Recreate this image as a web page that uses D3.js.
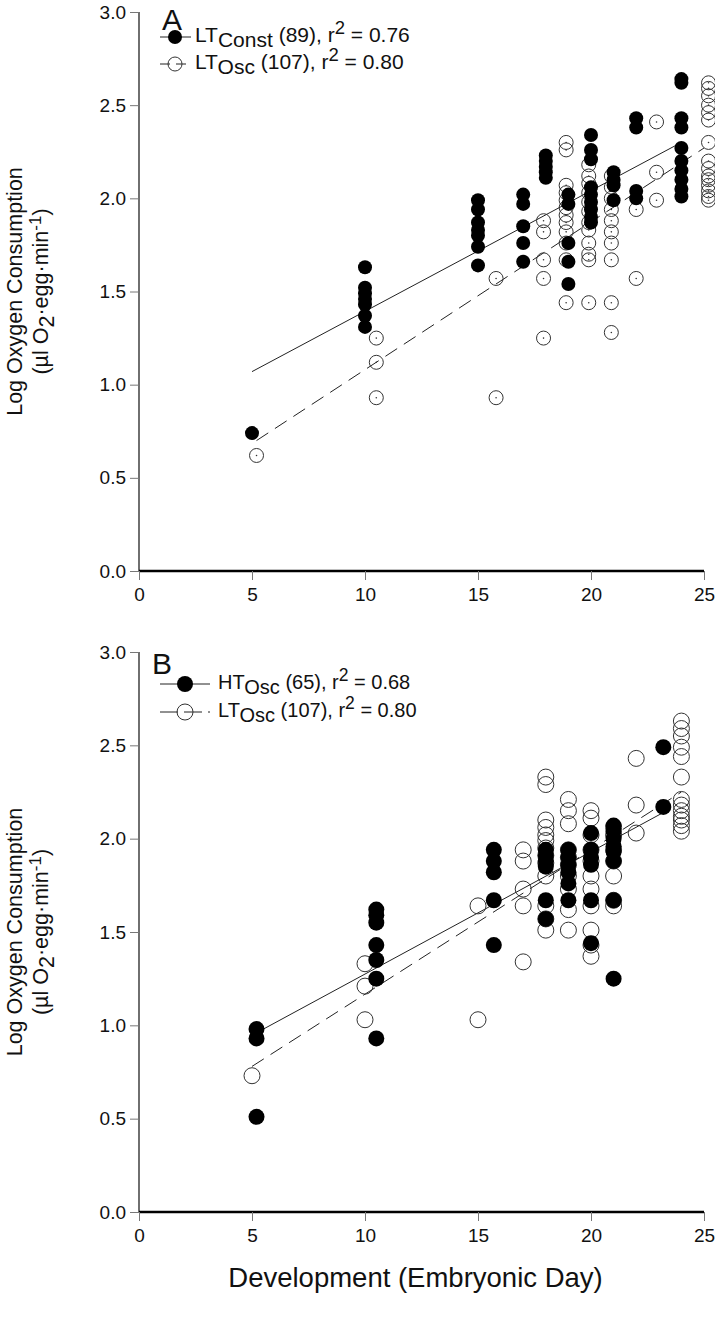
<!DOCTYPE html>
<html>
<head>
<meta charset="utf-8">
<script src="https://cdn.jsdelivr.net/npm/d3@7"></script>
<style>
  html, body { margin: 0; padding: 0; background: #fff; }
  svg { display: block; font-family: "Liberation Sans", Arial, sans-serif; }
</style>
</head>
<body>
<svg id="chart" width="715" height="1325"></svg>
<script>
// ---------- DATA ----------
const X_TICKS = [0, 5, 10, 15, 20, 25];
const Y_TICKS = [0.0, 0.5, 1.0, 1.5, 2.0, 2.5, 3.0];

// Panel A: LT Const (filled)
const A_LT_CONST = [
  { day: 5,  vals: [0.74] },
  { day: 10, vals: [1.63, 1.52, 1.49, 1.46, 1.43, 1.37, 1.31] },
  { day: 15, vals: [1.99, 1.94, 1.87, 1.83, 1.80, 1.74, 1.64] },
  { day: 17, vals: [2.02, 1.97, 1.85, 1.76, 1.66] },
  { day: 18, vals: [2.23, 2.20, 2.17, 2.14, 2.11] },
  { day: 19, vals: [2.02, 1.97, 1.76, 1.66, 1.54] },
  { day: 20, vals: [2.34, 2.26, 2.21, 2.06, 2.02, 1.98, 1.94, 1.90, 1.87] },
  { day: 21, vals: [2.14, 2.10, 2.07, 1.99] },
  { day: 22, vals: [2.43, 2.38, 2.04, 2.00] },
  { day: 24, vals: [2.64, 2.62, 2.43, 2.38, 2.27, 2.20, 2.15, 2.10, 2.05, 2.01] }
];
// Panel A: LT Osc (open, dotted centre)
const A_LT_OSC = [
  { day: 5.2,  vals: [0.62] },
  { day: 10.5, vals: [1.25, 1.12, 0.93] },
  { day: 15.8, vals: [1.57, 0.93] },
  { day: 17.9, vals: [1.88, 1.82, 1.67, 1.57, 1.25] },
  { day: 18.9, vals: [2.30, 2.26, 2.07, 2.03, 1.99, 1.95, 1.91, 1.87, 1.82, 1.76, 1.67, 1.44] },
  { day: 19.9, vals: [2.18, 2.12, 2.08, 2.03, 1.98, 1.93, 1.87, 1.83, 1.76, 1.70, 1.67, 1.44] },
  { day: 20.9, vals: [2.12, 2.06, 2.00, 1.94, 1.88, 1.82, 1.76, 1.67, 1.44, 1.28] },
  { day: 22,   vals: [1.94, 1.57] },
  { day: 22.9, vals: [2.41, 2.14, 1.99] },
  { day: 25.2, vals: [2.62, 2.59, 2.55, 2.50, 2.46, 2.42, 2.30, 2.20, 2.16, 2.12, 2.10, 2.07, 2.04, 2.01, 1.99] }
];
const A_CONST_FIT = [[5, 1.07], [24, 2.30]];
const A_OSC_FIT   = [[5.2, 0.70], [25, 2.27]];

// Panel B: HT Osc (filled)
const B_HT_OSC = [
  { day: 5.2,  vals: [0.98, 0.93, 0.51] },
  { day: 10.5, vals: [1.62, 1.59, 1.55, 1.43, 1.35, 1.25, 0.93] },
  { day: 15.7, vals: [1.94, 1.88, 1.82, 1.67, 1.43] },
  { day: 18,   vals: [1.94, 1.91, 1.88, 1.85, 1.67, 1.57] },
  { day: 19,   vals: [1.94, 1.90, 1.86, 1.82, 1.76, 1.67] },
  { day: 20,   vals: [2.03, 1.94, 1.90, 1.86, 1.67, 1.44] },
  { day: 21,   vals: [2.07, 2.04, 2.00, 1.96, 1.93, 1.88, 1.67, 1.25] },
  { day: 23.2, vals: [2.49, 2.17] }
];
// Panel B: LT Osc (open)
const B_LT_OSC = [
  { day: 5,  vals: [0.73] },
  { day: 10, vals: [1.33, 1.21, 1.03] },
  { day: 15, vals: [1.64, 1.03] },
  { day: 17, vals: [1.94, 1.88, 1.73, 1.64, 1.34] },
  { day: 18, vals: [2.33, 2.29, 2.10, 2.06, 2.02, 1.99, 1.95, 1.91, 1.87, 1.80, 1.64, 1.57, 1.51] },
  { day: 19, vals: [2.21, 2.15, 2.08, 1.94, 1.90, 1.86, 1.80, 1.73, 1.62, 1.51] },
  { day: 20, vals: [2.15, 2.11, 2.02, 1.94, 1.88, 1.80, 1.73, 1.64, 1.51, 1.43, 1.37] },
  { day: 21, vals: [2.06, 2.02, 1.94, 1.88, 1.80, 1.67, 1.64] },
  { day: 22, vals: [2.43, 2.18, 2.03] },
  { day: 24, vals: [2.63, 2.59, 2.55, 2.49, 2.44, 2.33, 2.21, 2.18, 2.15, 2.12, 2.10, 2.07, 2.04] }
];
const B_HT_FIT = [[5.2, 0.96], [23.2, 2.14]];
const B_LT_FIT = [[5, 0.78], [24, 2.25]];

// Legend texts
const A_LEGEND = [
  { main: "LT", sub: "Const", rest: " (89), r", sup: "2", tail: " = 0.76" },
  { main: "LT", sub: "Osc", rest: " (107), r", sup: "2", tail: " = 0.80" }
];
const B_LEGEND = [
  { main: "HT", sub: "Osc", rest: " (65), r", sup: "2", tail: " = 0.68" },
  { main: "LT", sub: "Osc", rest: " (107), r", sup: "2", tail: " = 0.80" }
];

// ---------- DRAW ----------
const svg = d3.select("#chart");
const X0 = 139, X1 = 704;

function expand(groups) {
  const out = [];
  groups.forEach(g => g.vals.forEach(v => out.push([g.day, v])));
  return out;
}

function panel(cfg) {
  const x = d3.scaleLinear().domain([0, 25]).range([X0, X1]);
  const y = d3.scaleLinear().domain([0, 3]).range([cfg.bottom, cfg.top]);
  const g = svg.append("g");

  // y axis
  const yAx = g.append("g").attr("transform", `translate(${X0},0)`)
    .call(d3.axisLeft(y).tickValues(Y_TICKS).tickFormat(d3.format(".1f")).tickSize(9).tickPadding(4));
  yAx.select(".domain").attr("stroke", "#222").attr("stroke-width", 1.3).attr("d", `M0,${cfg.top}V${cfg.bottom}`);
  yAx.selectAll(".tick line").attr("stroke", "#777");
  yAx.selectAll("text").attr("font-size", 19).attr("fill", "#111");

  // x axis
  const xAx = g.append("g").attr("transform", `translate(0,${cfg.bottom})`)
    .call(d3.axisBottom(x).tickValues(X_TICKS).tickFormat(d3.format("d")).tickSize(9).tickPadding(8));
  xAx.select(".domain").attr("stroke", "#000").attr("stroke-width", 2.5).attr("d", `M${X0},0H${X1}`);
  xAx.selectAll(".tick line").attr("stroke", "#777");
  xAx.selectAll("text").attr("font-size", 19).attr("fill", "#111");

  // y label
  const cy = (cfg.top + cfg.bottom) / 2;
  const yl = g.append("text").attr("transform", `translate(22,${cy}) rotate(-90)`)
    .attr("text-anchor", "middle").attr("font-size", 21.5).attr("fill", "#111");
  yl.text("Log Oxygen Consumption");
  const yl2 = g.append("text").attr("transform", `translate(48,${cy}) rotate(-90)`)
    .attr("text-anchor", "middle").attr("font-size", 21.5).attr("fill", "#111");
  yl2.append("tspan").text("(µl O");
  yl2.append("tspan").attr("baseline-shift", "-25%").text("2");
  yl2.append("tspan").text("·egg·min");
  yl2.append("tspan").attr("baseline-shift", "40%").attr("font-size", 17).text("-1");
  yl2.append("tspan").text(")");

  // fits
  const line = d3.line().x(d => x(d[0])).y(d => y(d[1]));
  g.append("path").datum(cfg.fitOpen).attr("d", line)
    .attr("fill", "none").attr("stroke", "#222").attr("stroke-width", 1).attr("stroke-dasharray", cfg.dash);
  g.append("path").datum(cfg.fitFilled).attr("d", line)
    .attr("fill", "none").attr("stroke", "#222").attr("stroke-width", 1);

  // points
  const R = cfg.r;
  g.append("g").selectAll("circle").data(expand(cfg.open)).join("circle")
    .attr("cx", d => x(d[0])).attr("cy", d => y(d[1])).attr("r", R)
    .attr("fill", "none").attr("stroke", "#333").attr("stroke-width", 1);
  if (cfg.dot) {
    g.append("g").selectAll("circle").data(expand(cfg.open)).join("circle")
      .attr("cx", d => x(d[0])).attr("cy", d => y(d[1])).attr("r", 0.8).attr("fill", "#333");
  }
  g.append("g").selectAll("circle").data(expand(cfg.filled)).join("circle")
    .attr("cx", d => x(d[0])).attr("cy", d => y(d[1])).attr("r", R).attr("fill", "#000");

  // panel letter
  g.append("text").attr("x", cfg.letterX).attr("y", cfg.letterY).attr("font-size", 30).attr("fill", "#111").text(cfg.letter);

  // legend
  cfg.legend.forEach((L, i) => {
    const ly = cfg.legY[i];
    const isOpen = i === 1;
    g.append("line").attr("x1", cfg.legX0).attr("x2", cfg.legX1).attr("y1", ly).attr("y2", ly)
      .attr("stroke", "#222").attr("stroke-width", 1).attr("stroke-dasharray", isOpen ? cfg.legDash : null);
    g.append("circle").attr("cx", cfg.legC).attr("cy", ly).attr("r", R)
      .attr("fill", isOpen ? "#fff" : "#000").attr("fill-opacity", isOpen ? 0 : 1)
      .attr("stroke", isOpen ? "#333" : "none").attr("stroke-width", 1);
    const fs = cfg.legFont;
    const t = g.append("text").attr("x", cfg.legT).attr("y", ly + 5).attr("font-size", fs).attr("fill", "#111");
    t.append("tspan").text(L.main);
    t.append("tspan").attr("dy", 5).text(L.sub);
    t.append("tspan").attr("dy", -5).text(L.rest);
    t.append("tspan").attr("dy", -8).attr("font-size", fs - 2.5).text(L.sup);
    t.append("tspan").attr("dy", 8).text(L.tail);
  });
}

panel({
  top: 12, bottom: 571, r: 7, dot: true, dash: "14,8",
  filled: A_LT_CONST, open: A_LT_OSC, fitFilled: A_CONST_FIT, fitOpen: A_OSC_FIT,
  letter: "A", letterX: 162, letterY: 30, legFont: 21,
  legend: A_LEGEND, legY: [37, 64], legX0: 160, legX1: 191, legC: 175, legT: 195, legDash: "10,6"
});
panel({
  top: 652, bottom: 1212, r: 8, dot: false, dash: "14,8",
  filled: B_HT_OSC, open: B_LT_OSC, fitFilled: B_HT_FIT, fitOpen: B_LT_FIT,
  letter: "B", letterX: 152, letterY: 674, legFont: 20,
  legend: B_LEGEND, legY: [684, 712], legX0: 160, legX1: 210, legC: 185, legT: 218, legDash: "18,6"
});

// x title
svg.append("text").attr("x", (X0 + X1) / 2 - 6).attr("y", 1287).attr("text-anchor", "middle")
  .attr("font-size", 27.5).attr("fill", "#111").text("Development (Embryonic Day)");
</script>
</body>
</html>
